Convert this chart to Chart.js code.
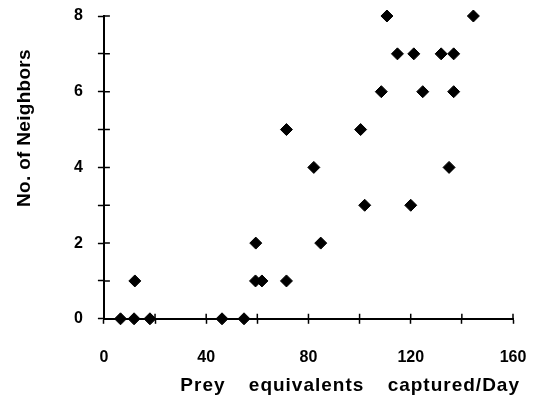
<!DOCTYPE html>
<html>
<head>
<meta charset="utf-8">
<script src="https://cdn.jsdelivr.net/npm/chart.js@4.4.1/dist/chart.umd.min.js"></script>
<style>
  html, body { margin: 0; padding: 0; background: #fff; }
  #wrap { width: 533px; height: 409px; }
</style>
</head>
<body>
<div id="wrap"><canvas id="neighborChart" width="533" height="409"></canvas></div>
<script>
// prey captured per day vs. number of neighbors, one entry per spider
const preyPerDay = [6.5, 11.8, 18, 46.2, 54.8,
                    12.1, 59.3, 61.8, 71.4,
                    59.4, 84.8,
                    102, 120,
                    82.1, 135,
                    71.4, 100.4,
                    108.5, 124.7, 136.8,
                    114.8, 121.2, 131.9, 136.8,
                    110.7, 144.5];
const neighbors = [0, 0, 0, 0, 0,
                   1, 1, 1, 1,
                   2, 2,
                   3, 3,
                   4, 4,
                   5, 5,
                   6, 6, 6,
                   7, 7, 7, 7,
                   8, 8];
const xLabels = [0, 40, 80, 120, 160];
const yLabels = [0, 2, 4, 6, 8];
const xTitle = 'Prey equivalents captured/Day';
const yTitle = 'No. of Neighbors';

const points = preyPerDay.map((x, i) => ({ x: x, y: neighbors[i] }));

const FONT = "'Liberation Sans', Arial, sans-serif";

// short tick stubs on the inner side of each axis, so ticks cross the line
const innerTicks = {
    id: 'innerTicks',
    afterDraw(chart) {
        const c = chart.ctx;
        const area = chart.chartArea;
        const xs = chart.scales.x, ys = chart.scales.y;
        c.save();
        c.strokeStyle = '#000';
        c.lineWidth = 1.5;
        c.beginPath();
        xs.ticks.forEach(t => {
            const px = xs.getPixelForValue(t.value);
            c.moveTo(px, area.bottom);
            c.lineTo(px, area.bottom - 5);
        });
        ys.ticks.forEach(t => {
            const py = ys.getPixelForValue(t.value);
            c.moveTo(area.left, py);
            c.lineTo(area.left + 6, py);
        });
        c.stroke();
        c.restore();
    }
};

// axis titles, drawn by hand for the wide letter spacing
const axisTitles = {
    id: 'axisTitles',
    afterDraw(chart) {
        const c = chart.ctx;
        const area = chart.chartArea;
        c.save();
        c.font = 'bold 19px ' + FONT;
        c.fillStyle = '#000';
        c.textBaseline = 'middle';

        c.letterSpacing = '1px';
        c.wordSpacing = '17px';
        c.textAlign = 'right';
        c.fillText(xTitle, area.right + 7, 386);

        c.letterSpacing = '0.3px';
        c.wordSpacing = '0px';
        c.translate(25, 128);
        c.rotate(-Math.PI / 2);
        c.textAlign = 'center';
        c.fillText(yTitle, 0, 0);
        c.restore();
    }
};

new Chart(document.getElementById('neighborChart'), {
    type: 'scatter',
    data: {
        datasets: [{
            data: points,
            pointStyle: 'rectRot',
            pointRadius: 6,
            borderWidth: 1,
            backgroundColor: '#000',
            borderColor: '#000',
            clip: false
        }]
    },
    options: {
        responsive: false,
        animation: false,
        events: [],
        layout: { autoPadding: false, padding: { left: 59, top: 16, right: 20, bottom: 18 } },
        plugins: { legend: { display: false }, tooltip: { enabled: false } },
        scales: {
            x: {
                min: 0, max: 160,
                afterFit: s => { s.paddingLeft = 0; s.paddingRight = 0; },
                ticks: {
                    stepSize: 20,
                    color: '#000',
                    padding: 24,
                    maxRotation: 0,
                    font: { family: FONT, size: 16, weight: 'bold' },
                    callback: v => xLabels.includes(v) ? String(v) : ''
                },
                grid: { drawOnChartArea: false, drawTicks: true, tickLength: 5, tickWidth: 1.5, tickColor: '#000' },
                border: { color: '#000', width: 2 }
            },
            y: {
                min: 0, max: 8,
                afterFit: s => { s.paddingTop = 0; s.paddingBottom = 0; },
                ticks: {
                    stepSize: 1,
                    color: '#000',
                    padding: 15,
                    font: { family: FONT, size: 16, weight: 'bold' },
                    callback: v => yLabels.includes(v) ? String(v) : ''
                },
                grid: { drawOnChartArea: false, drawTicks: true, tickLength: 6, tickWidth: 1.5, tickColor: '#000' },
                border: { color: '#000', width: 2 }
            }
        }
    },
    plugins: [innerTicks, axisTitles]
});
</script>
</body>
</html>
